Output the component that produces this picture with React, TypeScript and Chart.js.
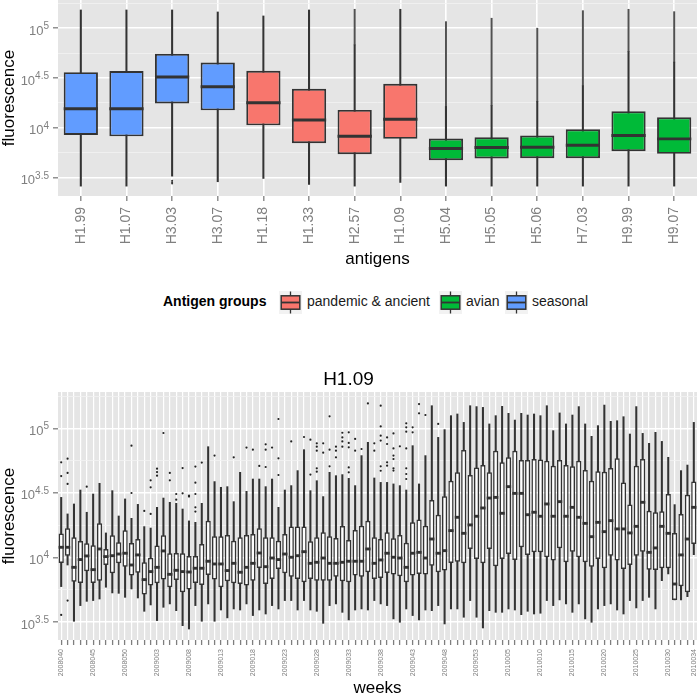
import React, { useEffect, useRef } from 'react';
import { Chart, registerables } from 'chart.js';
Chart.register(...registerables);

const FONT = "'Liberation Sans', Arial, Helvetica, sans-serif";

// ---------- Top panel: antigens (values are log10 fluorescence) ----------
const antigens = ['H1.99', 'H1.07', 'H3.03', 'H3.07', 'H1.18', 'H1.33', 'H2.57', 'H1.09', 'H5.04', 'H5.05', 'H5.06', 'H7.03', 'H9.99', 'H9.07'];
const antigenGroup = ['seasonal', 'seasonal', 'seasonal', 'seasonal', 'pandemic & ancient', 'pandemic & ancient', 'pandemic & ancient', 'pandemic & ancient', 'avian', 'avian', 'avian', 'avian', 'avian', 'avian'];
const groupNames = ['pandemic & ancient', 'avian', 'seasonal'];
const groupColors = ['#F8766D', '#00BA38', '#619CFF'];
const agLow = [3.416, 3.416, 3.516, 3.46, 3.493, 3.433, 3.416, 3.453, 3.416, 3.416, 3.416, 3.416, 3.416, 3.416];
const agQ1 = [3.930, 3.916, 4.246, 4.176, 4.026, 3.846, 3.736, 3.890, 3.676, 3.693, 3.696, 3.696, 3.766, 3.740];
const agMedian = [4.193, 4.193, 4.510, 4.413, 4.253, 4.080, 3.916, 4.086, 3.793, 3.803, 3.806, 3.826, 3.923, 3.890];
const agQ3 = [4.559, 4.570, 4.743, 4.656, 4.573, 4.393, 4.180, 4.443, 3.893, 3.906, 3.923, 3.986, 4.166, 4.106];
const agHigh = [5.183, 5.183, 5.183, 5.163, 5.123, 5.183, 4.833, 5.190, 4.216, 4.223, 4.266, 4.423, 4.766, 4.660];
const agOutlierMax: (number | null)[] = [null, null, null, null, null, null, 5.19, null, 5.066, 5.10, 5.00, 5.176, 5.19, 5.166];
const agLowOutliers: number[][] = [[], [], [3.47, 3.455, 3.443], [], [], [], [], [], [], [], [], [], [], []];

// ---------- Bottom panel: H1.09 by week (values are log10 fluorescence) ----------
const weekRanges = [[2008, 40, 52], [2009, 1, 53], [2010, 1, 34]];
const weeks: string[] = [];
for (const [yr, a, b] of weekRanges) for (let w = a; w <= b; w++) weeks.push(`${yr}${String(w).padStart(3, '0')}`);

const wkHigh = [4.466, 4.338, 4.415, 4.523, 4.351, 4.492, 4.575, 4.191, 4.518, 4.322, 4.454, 4.304, 4.412, 4.240, 4.229, 4.389, 4.461, 4.428, 4.420, 4.376, 4.284, 4.273, 4.420, 4.858, 4.588,
  4.544, 4.549, 4.433, 4.660, 4.513, 4.608, 4.608, 4.549, 4.608, 4.389, 4.523, 4.557, 4.673, 4.835, 4.518, 4.595, 4.472, 4.660, 4.634, 4.642, 4.613, 4.557, 4.789, 4.892, 4.616,
  4.582, 4.582, 4.570, 4.557, 4.523, 4.866, 4.570, 4.789, 5.175, 4.930, 4.990, 5.098, 5.111, 5.046, 5.175, 5.168, 5.162, 5.034, 5.098, 5.170, 5.116, 5.064, 5.116, 5.103, 5.111,
  5.098, 5.175, 4.982, 5.119, 5.034, 5.103, 5.168, 5.034, 4.938, 5.021, 5.180, 5.054, 5.059, 5.090, 4.956, 5.168, 4.961, 4.884, 4.969, 4.899, 4.776, 4.410, 4.673, 4.716, 5.046];
const wkQ3 = [4.186, 4.227, 4.157, 4.129, 4.111, 4.095, 4.265, 4.067, 4.173, 4.119, 4.211, 4.113, 4.144, 3.964, 4.000, 4.093, 4.173, 4.034, 4.036, 4.034, 4.013, 4.013, 4.106, 4.286, 4.165,
  4.165, 4.175, 4.131, 4.157, 4.175, 4.183, 4.227, 4.157, 4.157, 4.131, 4.183, 4.240, 4.240, 4.240, 4.126, 4.157, 4.196, 4.165, 4.152, 4.245, 4.137, 4.214, 4.247, 4.286, 4.157,
  4.144, 4.196, 4.149, 4.175, 4.116, 4.273, 4.294, 4.247, 4.446, 4.332, 4.474, 4.595, 4.660, 4.832, 4.639, 4.698, 4.716, 4.660, 4.827, 4.737, 4.776, 4.827, 4.755, 4.755, 4.763,
  4.758, 4.750, 4.711, 4.755, 4.716, 4.706, 4.750, 4.678, 4.595, 4.668, 4.665, 4.693, 4.768, 4.582, 4.410, 4.711, 4.763, 4.363, 4.351, 4.358, 4.492, 4.191, 4.338, 4.487, 4.588];
const wkMedian = [4.080, 4.080, 3.925, 3.985, 4.013, 3.907, 4.067, 4.008, 4.015, 4.028, 4.034, 3.943, 4.021, 3.830, 3.892, 3.925, 4.052, 3.871, 3.902, 3.892, 3.889, 3.918, 3.918, 3.972, 3.951,
  3.951, 3.900, 3.956, 3.887, 3.925, 3.956, 4.036, 3.930, 3.997, 3.985, 4.028, 4.003, 4.015, 4.046, 3.956, 3.964, 3.997, 3.956, 3.956, 3.964, 3.972, 3.972, 3.972, 4.067, 3.956,
  3.982, 4.034, 4.003, 3.997, 3.925, 4.034, 4.041, 3.997, 4.144, 4.034, 4.054, 4.209, 4.312, 4.188, 4.253, 4.320, 4.384, 4.461, 4.466, 4.343, 4.549, 4.497, 4.497, 4.332, 4.351,
  4.320, 4.415, 4.320, 4.433, 4.320, 4.389, 4.312, 4.265, 4.162, 4.273, 4.201, 4.286, 4.222, 4.222, 4.191, 4.242, 4.428, 4.041, 4.075, 4.242, 4.188, 3.796, 4.021, 4.144, 4.389];
const wkQ1 = [3.959, 4.015, 3.814, 3.804, 3.894, 3.804, 3.822, 3.943, 3.879, 3.956, 3.930, 3.861, 3.884, 3.714, 3.784, 3.802, 3.830, 3.771, 3.827, 3.732, 3.753, 3.804, 3.789, 3.866, 3.830,
  3.771, 3.817, 3.802, 3.796, 3.784, 3.822, 3.920, 3.796, 3.835, 3.912, 3.879, 3.853, 3.835, 3.809, 3.835, 3.822, 3.822, 3.822, 3.853, 3.817, 3.809, 3.861, 3.853, 3.887, 3.835,
  3.843, 3.881, 3.869, 3.856, 3.809, 3.861, 3.874, 3.869, 3.938, 3.887, 3.900, 3.959, 3.969, 3.956, 4.067, 3.990, 3.956, 4.067, 3.933, 3.990, 4.028, 3.982, 4.080, 4.021, 4.041,
  4.041, 4.003, 3.977, 4.072, 3.964, 4.046, 4.003, 3.964, 3.930, 3.990, 3.918, 4.015, 3.977, 3.912, 3.943, 4.015, 4.046, 3.907, 3.905, 3.918, 3.918, 3.673, 3.778, 3.732, 4.106];
const wkLow = [3.776, 3.943, 3.508, 3.629, 3.662, 3.668, 3.680, 3.771, 3.727, 3.724, 3.693, 3.758, 3.688, 3.585, 3.634, 3.513, 3.616, 3.642, 3.590, 3.474, 3.448, 3.629, 3.508, 3.642, 3.508,
  3.595, 3.534, 3.603, 3.595, 3.642, 3.552, 3.595, 3.564, 3.629, 3.603, 3.668, 3.668, 3.595, 3.668, 3.595, 3.585, 3.492, 3.629, 3.642, 3.577, 3.518, 3.595, 3.603, 3.595, 3.668,
  3.642, 3.629, 3.526, 3.500, 3.603, 3.552, 3.518, 3.595, 3.590, 3.629, 3.487, 3.603, 3.603, 3.539, 3.668, 3.539, 3.456, 3.590, 3.577, 3.577, 3.603, 3.595, 3.559, 3.585, 3.564,
  3.570, 3.668, 3.629, 3.673, 3.642, 3.577, 3.642, 3.526, 3.500, 3.603, 3.629, 3.642, 3.595, 3.564, 3.668, 3.611, 3.668, 3.693, 3.603, 3.822, 3.874, 3.673, 3.673, 3.698, 4.023];
const wkOutliers: Record<number, number[]> = {
  0: [4.737, 4.631, 3.557], 1: [4.765, 4.655, 4.57, 3.668], 4: [4.549], 11: [4.866, 4.5], 13: [4.361],
  14: [4.598, 4.544, 4.338], 15: [4.688, 4.662, 4.634], 16: [4.964], 17: [4.655, 4.598], 18: [4.492, 4.448],
  19: [4.693, 4.497], 20: [4.479, 4.472], 21: [4.704, 4.58, 4.492, 4.389, 4.356], 22: [4.735], 24: [4.789],
  27: [4.776], 29: [4.851], 30: [4.835], 31: [4.709], 32: [4.876, 4.835, 4.701], 33: [4.851],
  34: [5.072, 4.768, 4.639], 36: [4.899], 38: [4.933], 39: [4.912, 4.642], 40: [4.884, 4.858, 4.827, 4.691, 4.665],
  41: [4.884, 4.812], 42: [5.093, 4.835, 4.706], 43: [4.858, 4.827, 4.776], 44: [4.966, 4.93, 4.899, 4.858],
  45: [4.969, 4.887, 4.853, 4.698, 4.66], 46: [4.918, 4.827], 47: [4.84], 48: [5.193], 49: [4.884, 4.827],
  50: [5.175, 5.015, 4.943, 4.905, 4.706, 4.672], 51: [4.93, 4.879, 4.737, 4.711],
  52: [4.961, 4.845, 4.789, 4.763, 4.691, 4.673], 53: [4.861], 54: [5.039, 5.008, 4.974, 4.845, 4.691, 4.647, 4.608],
  55: [5.008, 4.969], 56: [5.188, 5.116], 57: [5.103], 59: [5.034],
};

const yMajorExps = [3.5, 4, 4.5, 5];
const yAllExps = [3.5, 3.75, 4, 4.25, 4.5, 4.75, 5, 5.25];

const p10 = (v: number) => Math.pow(10, v);
const isMajor = (v: number) => {
  const e = Math.log10(v) * 2;
  return Math.abs(e - Math.round(e)) < 1e-6;
};

const panelBg = {
  id: 'panelBg',
  beforeDraw(chart: any) {
    const { ctx, chartArea: a } = chart;
    ctx.save();
    ctx.fillStyle = '#E5E5E5';
    ctx.fillRect(a.left, a.top, a.right - a.left, a.bottom - a.top);
    ctx.restore();
  },
};

const expLabels = {
  id: 'expLabels',
  afterDraw(chart: any) {
    const s = chart.scales.y;
    const ctx = chart.ctx;
    ctx.save();
    ctx.fillStyle = '#7F7F7F';
    ctx.textAlign = 'right';
    ctx.textBaseline = 'alphabetic';
    for (const e of yMajorExps) {
      const y = s.getPixelForValue(p10(e));
      const t = String(e);
      const xr = s.right - 9;
      ctx.font = `10px ${FONT}`;
      const ew = ctx.measureText(t).width;
      ctx.fillText(t, xr, y + 0.8);
      ctx.font = `13px ${FONT}`;
      ctx.fillText('10', xr - ew, y + 6.5);
    }
    ctx.restore();
  },
};

function yScale(min: number, max: number) {
  return {
    type: 'logarithmic',
    min: p10(min),
    max: p10(max),
    afterBuildTicks: (s: any) => { s.ticks = yAllExps.map((e) => ({ value: p10(e) })); },
    ticks: { display: false },
    grid: {
      color: (c: any) => (c.tick && isMajor(c.tick.value) ? '#FFFFFF' : '#F2F2F2'),
      lineWidth: (c: any) => (c.tick && isMajor(c.tick.value) ? 1.6 : 0.8),
      tickColor: (c: any) => (c.tick && isMajor(c.tick.value) ? '#7F7F7F' : 'rgba(0,0,0,0)'),
      tickLength: 5,
      tickWidth: 1.3,
    },
    border: { display: false },
    title: { display: true, text: 'fluorescence', color: '#000', font: { family: FONT, size: 17, lineHeight: 1 }, padding: { top: 1, bottom: 0 } },
    afterFit: (s: any) => { s.width = 58; s.paddingTop = 0; s.paddingBottom = 0; },
  };
}

function topConfig(): any {
  const colorOf = (i: number) => groupColors[groupNames.indexOf(antigenGroup[i])];
  const lowPts: any[] = [];
  agLowOutliers.forEach((arr, i) => arr.forEach((v) => lowPts.push({ x: antigens[i], y: p10(v) })));
  return {
    type: 'bar',
    data: {
      labels: antigens,
      datasets: [
        { label: 'whisker', data: antigens.map((_, i) => [p10(agLow[i]), p10(agHigh[i])]), backgroundColor: '#333333', barThickness: 1.4, grouped: false, order: 4 },
        { label: 'outliers', data: antigens.map((_, i) => (agOutlierMax[i] == null ? null : [p10(agHigh[i]), p10(agOutlierMax[i] as number)])), backgroundColor: 'rgba(51,51,51,0.85)', barThickness: 1.3, grouped: false, order: 3 },
        { label: 'box', data: antigens.map((_, i) => [p10(agQ1[i]), p10(agQ3[i])]), backgroundColor: antigens.map((_, i) => colorOf(i)), borderColor: '#333333', borderWidth: 1.9, borderSkipped: false, barPercentage: 0.75, categoryPercentage: 1, grouped: false, order: 2 },
        { label: 'median', data: antigens.map((_, i) => [p10(agMedian[i]) / 1.035, p10(agMedian[i]) * 1.035]), backgroundColor: '#333333', barPercentage: 0.75, categoryPercentage: 1, grouped: false, order: 1 },
        { type: 'line', label: 'low outliers', data: lowPts, showLine: false, borderWidth: 0, pointRadius: 1, pointBorderWidth: 0, pointBackgroundColor: '#333333', order: 0 },
      ],
    },
    options: {
      responsive: false,
      animation: false,
      layout: { autoPadding: false, padding: { left: 0, right: 0, top: 0, bottom: 12 } },
      plugins: { legend: { display: false }, tooltip: { enabled: false }, title: { display: false } },
      scales: {
        x: {
          type: 'category',
          offset: true,
          grid: { offset: false, color: '#FFFFFF', lineWidth: 1.6, tickColor: '#7F7F7F', tickLength: 5, tickWidth: 1.3 },
          border: { display: false },
          ticks: { color: '#7F7F7F', font: { family: FONT, size: 14 }, maxRotation: 90, minRotation: 90, autoSkip: false, padding: 6 },
          title: { display: true, text: 'antigens', color: '#000', font: { family: FONT, size: 17, lineHeight: 1 }, padding: 0 },
          afterFit: (s: any) => { s.height = 72; s.paddingLeft = 0; s.paddingRight = 0; },
        },
        y: yScale(3.317, 5.283),
      },
    },
    plugins: [panelBg, expLabels],
  };
}

function bottomConfig(): any {
  const pts: any[] = [];
  Object.keys(wkOutliers).forEach((k) => {
    const i = Number(k);
    wkOutliers[i].forEach((v) => pts.push({ x: weeks[i], y: p10(v) }));
  });
  return {
    type: 'bar',
    data: {
      labels: weeks,
      datasets: [
        { label: 'whisker', data: weeks.map((_, i) => [p10(wkLow[i]), p10(wkHigh[i])]), backgroundColor: '#333333', barThickness: 1.4, grouped: false, order: 3 },
        { label: 'box', data: weeks.map((_, i) => [p10(wkQ1[i]), p10(wkQ3[i])]), backgroundColor: '#FFFFFF', borderColor: '#333333', borderWidth: 1.5, borderSkipped: false, barPercentage: 0.82, categoryPercentage: 1, grouped: false, order: 2 },
        { label: 'median', data: weeks.map((_, i) => [p10(wkMedian[i]) / 1.026, p10(wkMedian[i]) * 1.026]), backgroundColor: '#333333', barPercentage: 0.82, categoryPercentage: 1, grouped: false, order: 1 },
        { type: 'line', label: 'outliers', data: pts, showLine: false, borderWidth: 0, pointRadius: 1.1, pointBorderWidth: 0, pointBackgroundColor: '#222222', order: 0 },
      ],
    },
    options: {
      responsive: false,
      animation: false,
      layout: { autoPadding: false, padding: 0 },
      plugins: {
        legend: { display: false },
        tooltip: { enabled: false },
        title: { display: true, text: 'H1.09', color: '#000', font: { family: FONT, size: 19, weight: 'normal', lineHeight: 1.2 }, padding: { top: 0, bottom: 1.2 } },
      },
      scales: {
        x: {
          type: 'category',
          offset: true,
          grid: { offset: false, color: '#FFFFFF', lineWidth: 1.2, tickColor: '#7F7F7F', tickLength: 5, tickWidth: 1.3 },
          border: { display: false },
          ticks: {
            color: '#7F7F7F', font: { family: FONT, size: 7 }, maxRotation: 90, minRotation: 90, autoSkip: false, padding: 4,
            callback: (_v: any, i: number) => (i % 5 === 0 || i === weeks.length - 1 ? weeks[i] : ''),
          },
          title: { display: true, text: 'weeks', color: '#000', font: { family: FONT, size: 17, lineHeight: 1 }, padding: 0 },
          afterFit: (s: any) => { s.height = 57; s.paddingLeft = 0; s.paddingRight = 0; },
        },
        y: yScale(3.363, 5.281),
      },
    },
    plugins: [panelBg, expLabels],
  };
}

function LegendKey({ color }: { color: string }) {
  return (
    <svg width={23} height={23} style={{ display: 'block' }}>
      <rect x={0} y={0} width={23} height={23} fill="#F2F2F2" />
      <line x1={11.5} y1={0.5} x2={11.5} y2={22.5} stroke="#333" strokeWidth={1.3} />
      <rect x={2.2} y={4.8} width={18.6} height={13.4} fill={color} stroke="#333" strokeWidth={1.5} />
      <line x1={2.2} y1={11.5} x2={20.8} y2={11.5} stroke="#333" strokeWidth={1.8} />
    </svg>
  );
}

const legendKeyX = [279, 439, 505];
const legendTextX = [307, 466, 532];

export default function App() {
  const topRef = useRef<HTMLCanvasElement>(null);
  const botRef = useRef<HTMLCanvasElement>(null);
  useEffect(() => {
    const c1 = new Chart(topRef.current as HTMLCanvasElement, topConfig());
    const c2 = new Chart(botRef.current as HTMLCanvasElement, bottomConfig());
    return () => { c1.destroy(); c2.destroy(); };
  }, []);
  return (
    <div style={{ position: 'absolute', left: 0, top: 0, width: 697, height: 697, background: '#FFFFFF', overflow: 'hidden', fontFamily: FONT }}>
      <canvas ref={topRef} width={697} height={280} style={{ position: 'absolute', left: 0, top: 0, width: 697, height: 280 }} />
      <div style={{ position: 'absolute', left: 163, top: 293, fontSize: 14, lineHeight: '17px', fontWeight: 'bold', color: '#000' }}>Antigen groups</div>
      {groupNames.map((g, i) => (
        <React.Fragment key={g}>
          <div style={{ position: 'absolute', left: legendKeyX[i], top: 290.5 }}><LegendKey color={groupColors[i]} /></div>
          <div style={{ position: 'absolute', left: legendTextX[i], top: 293, fontSize: 14, lineHeight: '17px', color: '#1A1A1A', whiteSpace: 'nowrap' }}>{g}</div>
        </React.Fragment>
      ))}
      <canvas ref={botRef} width={697} height={329} style={{ position: 'absolute', left: 0, top: 368, width: 697, height: 329 }} />
    </div>
  );
}
